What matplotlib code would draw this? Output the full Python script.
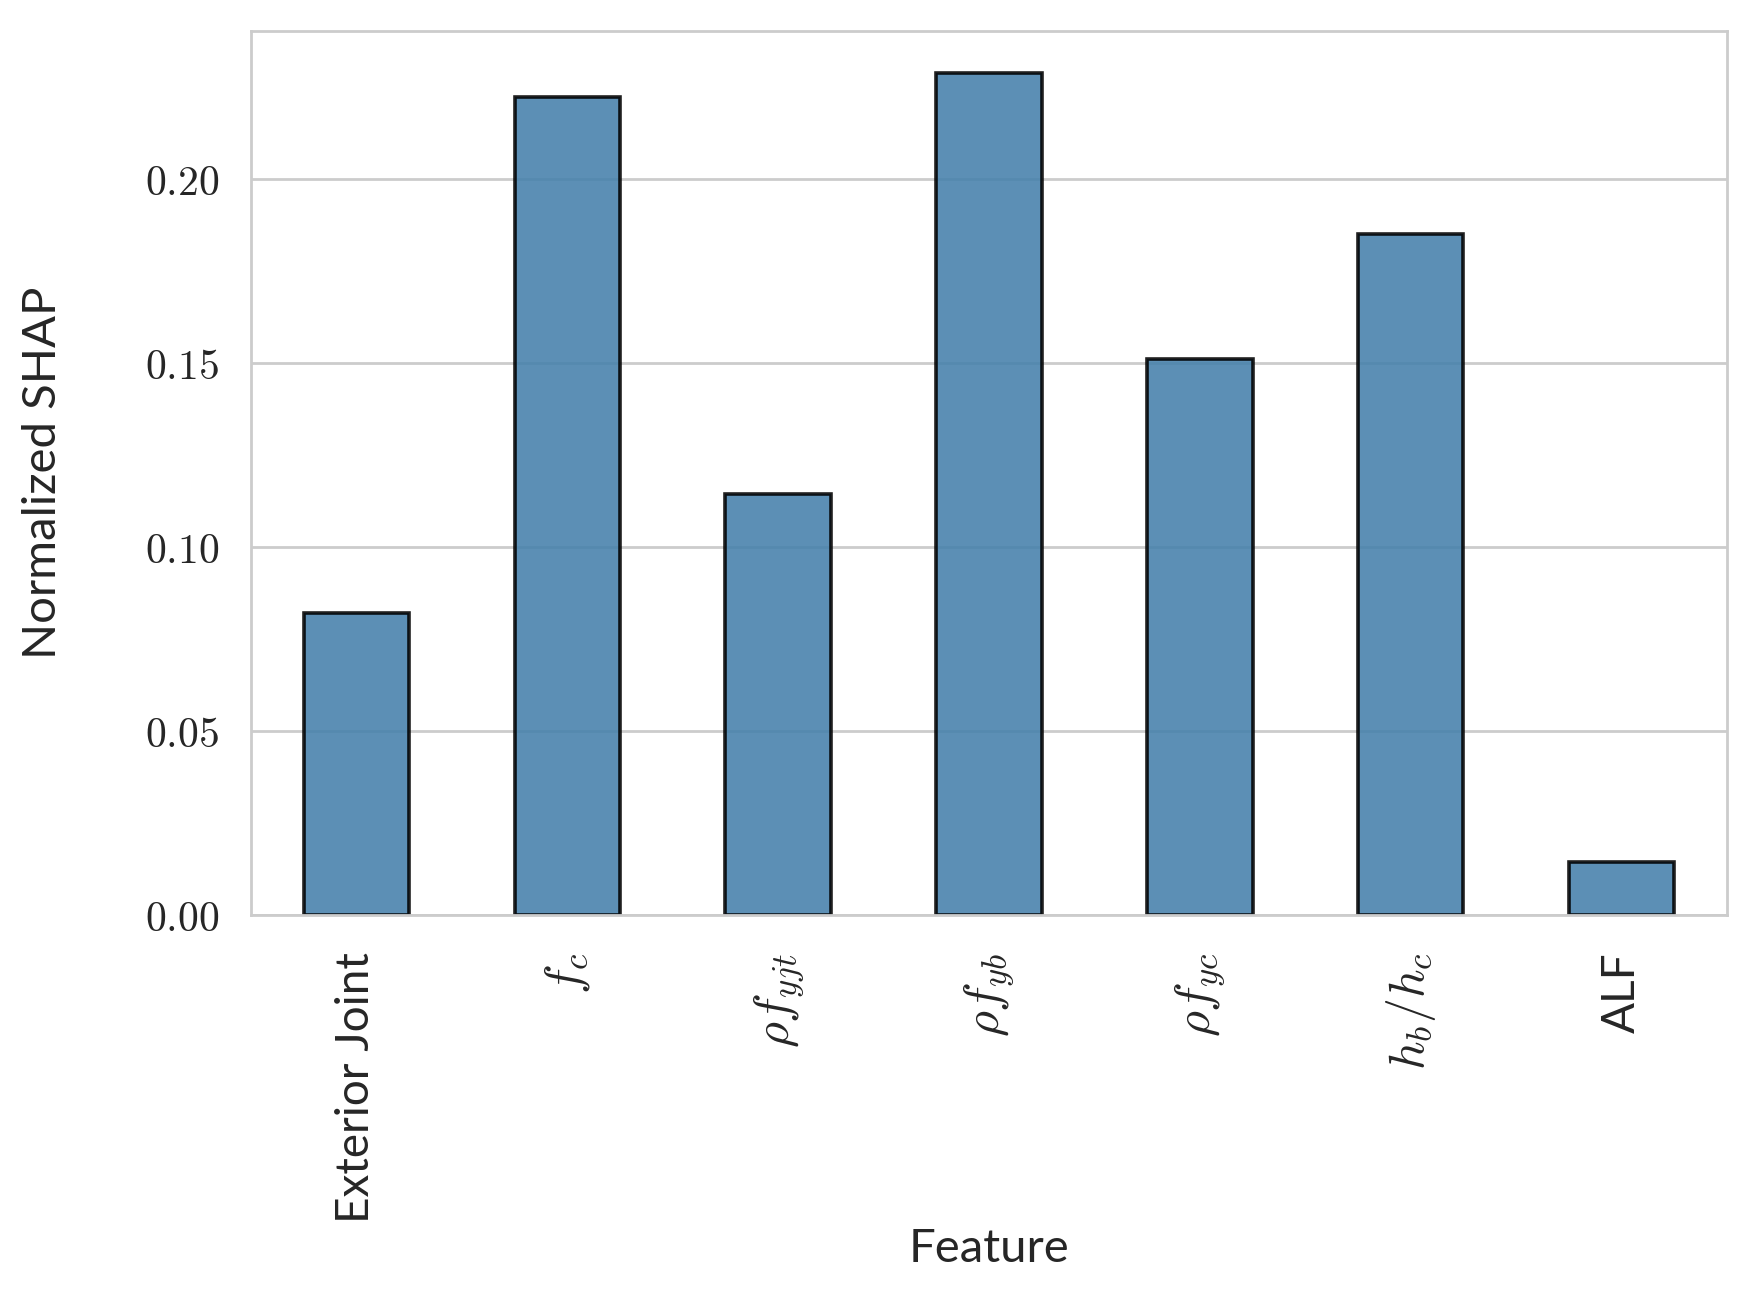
import numpy as np
import pandas as pd
import matplotlib
matplotlib.use("Agg")
import matplotlib.pyplot as plt
import seaborn as sns
from matplotlib.ticker import FuncFormatter

# normalized mean |SHAP| per feature
features = ["Exterior Joint", r"$f_c$", r"$\rho f_{yjt}$", r"$\rho f_{yb}$",
            r"$\rho f_{yc}$", r"$h_b/h_c$", "ALF"]
shap_vals = [0.0822, 0.2225, 0.1145, 0.2289, 0.1513, 0.1851, 0.0143]

sns.set_style("whitegrid")
plt.rcParams["font.family"] = ["Lato", "DejaVu Sans"]
plt.rcParams["mathtext.fontset"] = "cm"

df = pd.DataFrame({"Feature": features, "SHAP": shap_vals})

fig = plt.figure(figsize=(8.75, 6.455), dpi=200)
ax = fig.add_axes([0.1434, 0.2912, 0.8435, 0.6848])

df.plot.bar(x="Feature", y="SHAP", ax=ax, legend=False, width=0.5,
            color="#4580ab", alpha=0.88, edgecolor="black", linewidth=1.3)

ax.set_xlim(-0.5, len(features) - 0.5)
ax.set_ylim(0, max(shap_vals) * 1.05)
ax.set_yticks([0.0, 0.05, 0.10, 0.15, 0.20])
ax.yaxis.set_major_formatter(FuncFormatter(lambda v, p: f"${v:.2f}$"))
ax.tick_params(axis="y", labelsize=15, pad=8)
ax.tick_params(axis="x", labelsize=16.5, rotation=90, pad=10)
for lbl in ax.get_xticklabels():
    if lbl.get_text().startswith("$"):
        lbl.set_fontsize(18)
ax.grid(False, axis="x")
ax.grid(True, axis="y", color="#cccccc", linewidth=1.0)
for s in ax.spines.values():
    s.set_color("#cccccc")
    s.set_linewidth(1.0)

ax.set_xlabel("Feature", fontsize=17, va="center")
ax.xaxis.set_label_coords(0.5, -0.378)
ax.set_ylabel("Normalized SHAP", fontsize=17, va="center")
ax.yaxis.set_label_coords(-0.1406, 0.5)

fig.savefig("out.png", dpi=200)
